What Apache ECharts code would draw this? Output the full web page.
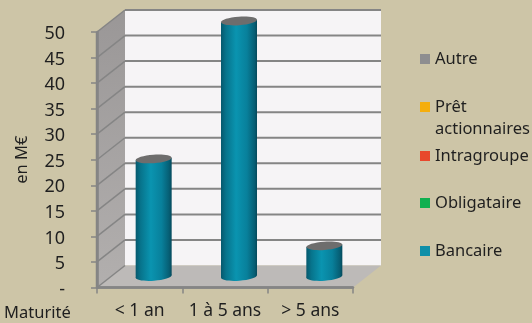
<!DOCTYPE html>
<html><head><meta charset="utf-8">
<style>html,body{margin:0;padding:0;background:#cdc5a7}#c{width:532px;height:323px}</style>
<script src="https://cdn.jsdelivr.net/npm/echarts@6/dist/echarts.min.js"></script>
</head><body><div id="c"></div>
<script>
const categories = ['< 1 an', '1 à 5 ans', '> 5 ans'];
const bancaire = [23, 50, 6];
const obligataire = [0, 0, 0];
const intragroupe = [0, 0, 0];
const pret = [0, 0, 0];
const autre = [0, 0, 0];
const yTicks = [0, 5, 10, 15, 20, 25, 30, 35, 40, 45, 50];

const FONT = '"Noto Sans"';
const TXT = '#1f1f1f';
const DX = 28, DY = -22;
const GRID = '#858585';

function renderWalls(params, api) {
  const cs = params.coordSys;
  const L = cs.x, R = cs.x + cs.width;
  const y0 = api.coord([0, 0])[1], yM = api.coord([0, 50])[1];
  const kids = [
    {type:'polygon', shape:{points:[[L+DX,yM+DY],[R+DX,yM+DY],[R+DX,y0+DY],[L+DX,y0+DY]]}, style:{fill:'#f6f4f6'}},
    {type:'polygon', shape:{points:[[L,yM],[L+DX,yM+DY],[L+DX,y0+DY],[L,y0]]},
      style:{fill:{type:'linear',x:0,y:0,x2:0,y2:1,colorStops:[{offset:0,color:'#9a9797'},{offset:1,color:'#b2afae'}]}}},
    {type:'polygon', shape:{points:[[L,y0],[L+DX,y0+DY],[R+DX,y0+DY],[R,y0]]}, style:{fill:'#bdbab8'}}
  ];
  yTicks.forEach(t => {
    const y = api.coord([0, t])[1];
    if (t > 0) kids.push({type:'line', shape:{x1:L+DX,y1:y+DY,x2:R+DX,y2:y+DY}, style:{stroke:GRID,lineWidth:2}});
    kids.push({type:'line', shape:{x1:L,y1:y,x2:L+DX,y2:y+DY}, style:{stroke:GRID,lineWidth:1.5}});
  });
  kids.push({type:'line', shape:{x1:L,y1:y0,x2:R,y2:y0}, style:{stroke:GRID,lineWidth:2.5}});
  kids.push({type:'line', shape:{x1:L,y1:yM,x2:L,y2:y0}, style:{stroke:GRID,lineWidth:2.5}});
  return {type:'group', children:kids};
}

function renderCyl(params, api) {
  const v = api.value(1);
  if (!v) return null;
  const c = api.coord([api.value(0), v]), b = api.coord([api.value(0), 0]);
  const cx = c[0] + DX/2, top = c[1] + DY/2, bot = b[1] + DY/2;
  const rx = 18, ry = 4.2, rot = 0.07, t = rx * Math.sin(rot);
  const grad = {type:'linear',x:0,y:0,x2:1,y2:0,colorStops:[
    {offset:0,color:'#06586d'},{offset:0.14,color:'#07748c'},{offset:0.42,color:'#0a94b0'},
    {offset:0.72,color:'#08809b'},{offset:0.93,color:'#065e74'},{offset:1,color:'#05495b'}]};
  return {type:'group', children:[
    {type:'ellipse', shape:{cx:0,cy:0,rx:rx,ry:ry}, x:cx, y:bot, rotation:rot, style:{fill:grad}},
    {type:'polygon', shape:{points:[[cx-rx,top+t],[cx+rx,top-t],[cx+rx,bot-t],[cx-rx,bot+t]]}, style:{fill:grad}},
    {type:'ellipse', shape:{cx:0,cy:0,rx:rx,ry:ry}, x:cx, y:top, rotation:rot, style:{fill:'#6e6d6d'}}
  ]};
}

const mk = (name, arr, color) => ({
  name, type:'custom', z:6, renderItem:renderCyl, itemStyle:{color},
  encode:{x:0,y:1}, data:arr.map((v,i)=>[i,v]), silent:true
});
const leg = (name, top, fmt) => ({
  data:[name], left:420, top, orient:'vertical', icon:'rect', itemWidth:10, itemHeight:10,
  selectedMode:false, padding:0, formatter:fmt || '{name}',
  textStyle:{fontFamily:FONT, fontSize:16.5, color:TXT, lineHeight:22}
});

const chart = echarts.init(document.getElementById('c'));
chart.setOption({
  animation:false,
  backgroundColor:'#cdc5a7',
  title:{text:'Maturité', left:4, top:305, padding:0, textStyle:{fontFamily:FONT, fontSize:16.5, fontWeight:'normal', color:TXT}},
  grid:{left:97, right:179, top:32, bottom:35.5},
  legend:[
    leg('Autre', 48),
    leg('Prêt actionnaires', 74, '\nPrêt\nactionnaires'),
    leg('Intragroupe', 145),
    leg('Obligataire', 192),
    leg('Bancaire', 240)
  ],
  xAxis:{type:'category', data:categories, z:5,
    axisLine:{show:true,onZero:false,lineStyle:{color:GRID,width:2.5}},
    axisTick:{show:true,interval:0,length:6,lineStyle:{color:GRID,width:1.5}},
    axisLabel:{fontFamily:FONT,fontSize:17.5,color:TXT,margin:15,interval:0}},
  yAxis:{type:'value', min:0, max:50, interval:5, z:5,
    name:'en M€', nameLocation:'middle', nameGap:66, nameRotate:90,
    nameTextStyle:{fontFamily:FONT,fontSize:16.5,color:TXT},
    splitLine:{show:false},
    axisLine:{show:true,lineStyle:{color:GRID,width:2.5}},
    axisTick:{show:true,length:6,lineStyle:{color:GRID,width:1.5}},
    axisLabel:{fontFamily:FONT,fontSize:18,color:TXT,margin:32,verticalAlign:'top',lineHeight:4,formatter:v=>v===0?'-':String(v)}},
  series:[
    {type:'custom', name:'walls', z:1, silent:true, renderItem:renderWalls, encode:{x:0,y:1}, data:[[0,0]]},
    mk('Bancaire', bancaire, '#0f8fa8'),
    mk('Obligataire', obligataire, '#10b050'),
    mk('Intragroupe', intragroupe, '#e8482c'),
    mk('Prêt actionnaires', pret, '#f5ae0d'),
    mk('Autre', autre, '#8e8e90')
  ]
});
</script></body></html>
